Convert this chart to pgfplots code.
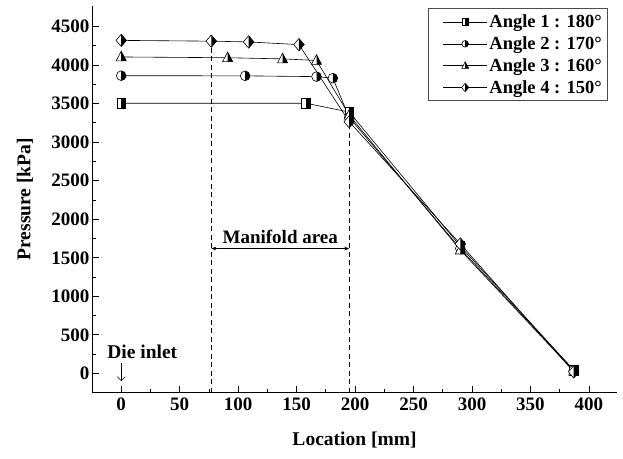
\documentclass[border=0pt]{standalone}
\usepackage{fontspec}
\setmainfont{Liberation Serif}
\usepackage{pgfplots}
\pgfplotsset{compat=1.18}
\usetikzlibrary{arrows.meta}

\pgfdeclareplotmark{hsq}{%
  \pgfpathrectangle{\pgfqpoint{-\pgfplotmarksize}{-1.1\pgfplotmarksize}}{\pgfqpoint{2\pgfplotmarksize}{2.2\pgfplotmarksize}}%
  \pgfsetfillcolor{white}\pgfusepathqfill
  \pgfpathrectangle{\pgfqpoint{0pt}{-1.1\pgfplotmarksize}}{\pgfqpoint{\pgfplotmarksize}{2.2\pgfplotmarksize}}%
  \pgfsetfillcolor{black}\pgfusepathqfill
  \pgfpathrectangle{\pgfqpoint{-\pgfplotmarksize}{-1.1\pgfplotmarksize}}{\pgfqpoint{2\pgfplotmarksize}{2.2\pgfplotmarksize}}%
  \pgfusepathqstroke
}
\pgfdeclareplotmark{hci}{%
  \pgfpathcircle{\pgfpointorigin}{1.1\pgfplotmarksize}%
  \pgfsetfillcolor{white}\pgfusepathqfill
  \pgfpathmoveto{\pgfqpoint{0pt}{1.1\pgfplotmarksize}}%
  \pgfpatharc{90}{-90}{1.1\pgfplotmarksize}%
  \pgfpathclose
  \pgfsetfillcolor{black}\pgfusepathqfill
  \pgfpathcircle{\pgfpointorigin}{1.1\pgfplotmarksize}%
  \pgfusepathqstroke
}
\pgfdeclareplotmark{htr}{%
  \pgfpathmoveto{\pgfqpoint{0pt}{1.3\pgfplotmarksize}}%
  \pgfpathlineto{\pgfqpoint{-1.15\pgfplotmarksize}{-0.9\pgfplotmarksize}}%
  \pgfpathlineto{\pgfqpoint{1.15\pgfplotmarksize}{-0.9\pgfplotmarksize}}%
  \pgfpathclose
  \pgfsetfillcolor{white}\pgfusepathqfill
  \pgfpathmoveto{\pgfqpoint{0pt}{1.3\pgfplotmarksize}}%
  \pgfpathlineto{\pgfqpoint{1.15\pgfplotmarksize}{-0.9\pgfplotmarksize}}%
  \pgfpathlineto{\pgfqpoint{0pt}{-0.9\pgfplotmarksize}}%
  \pgfpathclose
  \pgfsetfillcolor{black}\pgfusepathqfill
  \pgfpathmoveto{\pgfqpoint{0pt}{1.3\pgfplotmarksize}}%
  \pgfpathlineto{\pgfqpoint{-1.15\pgfplotmarksize}{-0.9\pgfplotmarksize}}%
  \pgfpathlineto{\pgfqpoint{1.15\pgfplotmarksize}{-0.9\pgfplotmarksize}}%
  \pgfpathclose
  \pgfusepathqstroke
}
\pgfdeclareplotmark{hdi}{%
  \pgfpathmoveto{\pgfqpoint{0pt}{1.4\pgfplotmarksize}}%
  \pgfpathlineto{\pgfqpoint{-1.2\pgfplotmarksize}{0pt}}%
  \pgfpathlineto{\pgfqpoint{0pt}{-1.4\pgfplotmarksize}}%
  \pgfpathlineto{\pgfqpoint{1.2\pgfplotmarksize}{0pt}}%
  \pgfpathclose
  \pgfsetfillcolor{white}\pgfusepathqfill
  \pgfpathmoveto{\pgfqpoint{0pt}{1.4\pgfplotmarksize}}%
  \pgfpathlineto{\pgfqpoint{1.2\pgfplotmarksize}{0pt}}%
  \pgfpathlineto{\pgfqpoint{0pt}{-1.4\pgfplotmarksize}}%
  \pgfpathclose
  \pgfsetfillcolor{black}\pgfusepathqfill
  \pgfpathmoveto{\pgfqpoint{0pt}{1.4\pgfplotmarksize}}%
  \pgfpathlineto{\pgfqpoint{-1.2\pgfplotmarksize}{0pt}}%
  \pgfpathlineto{\pgfqpoint{0pt}{-1.4\pgfplotmarksize}}%
  \pgfpathlineto{\pgfqpoint{1.2\pgfplotmarksize}{0pt}}%
  \pgfpathclose
  \pgfusepathqstroke
}

\begin{document}
\begin{tikzpicture}
\begin{axis}[
  scale only axis, width=525pt, height=387pt,
  xmin=-25, xmax=424, ymin=-250, ymax=4770,
  axis lines*=left,
  axis line style={line width=0.9pt},
  tick align=inside,
  xtick={0,50,...,400}, minor x tick num=1,
  ytick={0,500,...,4500}, minor y tick num=1,
  major tick length=7pt, minor tick length=4pt,
  tick style={black, line width=0.8pt},
  tick label style={font=\bfseries\fontsize{19}{22}\selectfont},
  yticklabel style={xshift=1pt},
  xticklabel style={yshift=-2pt},
  /pgf/number format/assume math mode=true,
  /pgf/number format/1000 sep={},
  xlabel={Location [mm]}, ylabel={Pressure [kPa]},
  every axis x label/.style={at={(axis description cs:0.5,0)}, yshift=-47pt, anchor=center, font=\bfseries\fontsize{19.5}{22}\selectfont},
  every axis y label/.style={at={(axis description cs:0,0.5)}, xshift=-67pt, rotate=90, anchor=center, font=\bfseries\fontsize{19.5}{22}\selectfont},
  legend style={at={(rel axis cs:0.983,0.993)}, anchor=north east, draw=black!70, line width=0.8pt,
    font=\bfseries\fontsize{18.5}{20}\selectfont, inner xsep=4pt, inner ysep=4pt, row sep=3.5pt,
    nodes={inner xsep=2pt}},
  legend cell align=left,
  legend image code/.code={\path (0pt,0pt); \draw[#1, mark size=3pt, mark repeat=2, mark phase=2] plot coordinates {(10pt,0pt) (32pt,0pt) (54pt,0pt)};},
  every axis plot/.append style={black, line width=0.6pt, mark size=4.4pt},
]
\addplot[mark=hsq] coordinates {(0,3505) (158,3505) (195,3390) (290,1650) (387,45)};
\addlegendentry{Angle 1 : 180°}
\addplot[mark=hci] coordinates {(0,3862) (106,3860) (167,3850) (181,3830) (195,3320) (290,1620) (387,40)};
\addlegendentry{Angle 2 : 170°}
\addplot[mark=htr] coordinates {(0,4105) (91,4095) (138,4080) (167,4060) (195,3350) (290,1600) (387,30)};
\addlegendentry{Angle 3 : 160°}
\addplot[mark=hdi] coordinates {(0,4320) (77,4310) (109,4300) (152,4265) (195,3265) (290,1680) (387,20)};
\addlegendentry{Angle 4 : 150°}
\addplot[forget plot, no marks, dashed, dash pattern=on 5pt off 3.5pt, line width=0.9pt] coordinates {(77,-250) (77,4290)};
\addplot[forget plot, no marks, dashed, dash pattern=on 5pt off 3.5pt, line width=0.9pt] coordinates {(195,-250) (195,3250)};
\draw[{Stealth[length=5pt]}-{Stealth[length=5pt]}, line width=0.6pt] (axis cs:77,1620) -- (axis cs:195,1620);
\node[font=\bfseries\fontsize{19}{20}\selectfont] at (axis cs:136,1775) {Manifold area};
\node[font=\bfseries\fontsize{19.5}{20}\selectfont] at (axis cs:18,275) {Die inlet};
\draw[-{Straight Barb[length=4pt]}, line width=0.6pt] (axis cs:0,130) -- (axis cs:0,-100);
\end{axis}
\path (-92pt,-66pt) rectangle (531pt,392.7pt);
\end{tikzpicture}
\end{document}
